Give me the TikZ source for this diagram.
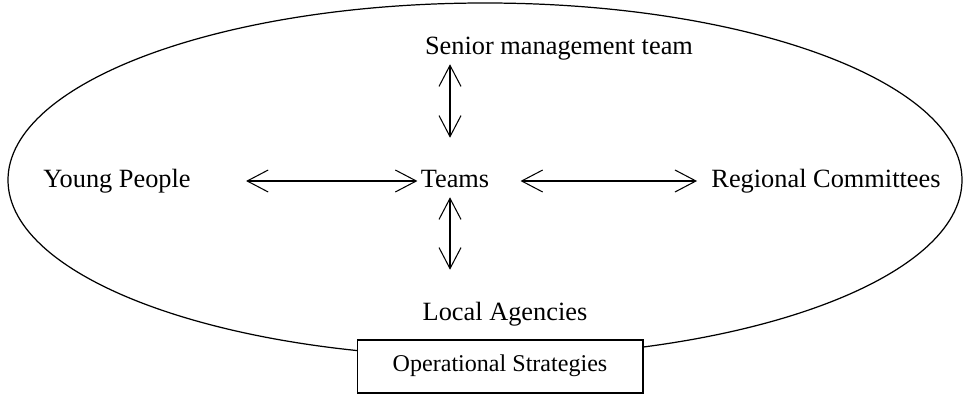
\documentclass[tikz,border=0pt]{standalone}
\usepackage{fontspec}
\setmainfont{Liberation Serif}
\usetikzlibrary{arrows.meta}
\tikzset{%
  LabelStyle/.style={inner sep=0pt,text height=10pt,text depth=3pt,font=\fontsize{15}{18}\selectfont},
  LinkStyle/.style={{Straight Barb[length=0.42cm,width=0.44cm]}-{Straight Barb[length=0.42cm,width=0.44cm]},line width=0.6pt},
  BoxStyle/.style={draw,fill=white,line width=0.6pt,minimum width=5.72cm,minimum height=1.06cm,
    text height=9pt,text depth=3pt,font=\fontsize{13.7}{16}\selectfont}
}

\begin{document}
\begin{tikzpicture}[x=0.02cm,y=-0.02cm]
  \useasboundingbox (0,0) rectangle (964,395);
  \draw[line width=0.7pt] (485,180) ellipse [x radius=477,y radius=177];
  \node[LabelStyle] (teams) at (455,181) {Teams};
  \node[LabelStyle] (senior) at (559,48) {Senior management team};
  \node[LabelStyle] (young) at (117,181) {Young People};
  \node[LabelStyle] (regional) at (826,181) {Regional Committees};
  \node[LabelStyle] (local) at (505,314) {Local Agencies};
  \node[BoxStyle] (strategies) at (500,366.5) {Operational Strategies};
  \draw[LinkStyle,shorten <=1.1cm,shorten >=0.06cm] (young.east) -- (teams.west);
  \draw[LinkStyle,shorten <=0.62cm,shorten >=0.28cm] (teams.east) -- (regional.west);
  \draw[LinkStyle,shorten <=0.09cm,shorten >=0.63cm]
    ([xshift=-1mm]teams.north |- senior.south) -- ([xshift=-1mm]teams.north);
  \draw[LinkStyle,shorten <=0.09cm,shorten >=0.65cm]
    ([xshift=-1mm]teams.south) -- ([xshift=-1mm]teams.south |- local.north);
\end{tikzpicture}
\end{document}
